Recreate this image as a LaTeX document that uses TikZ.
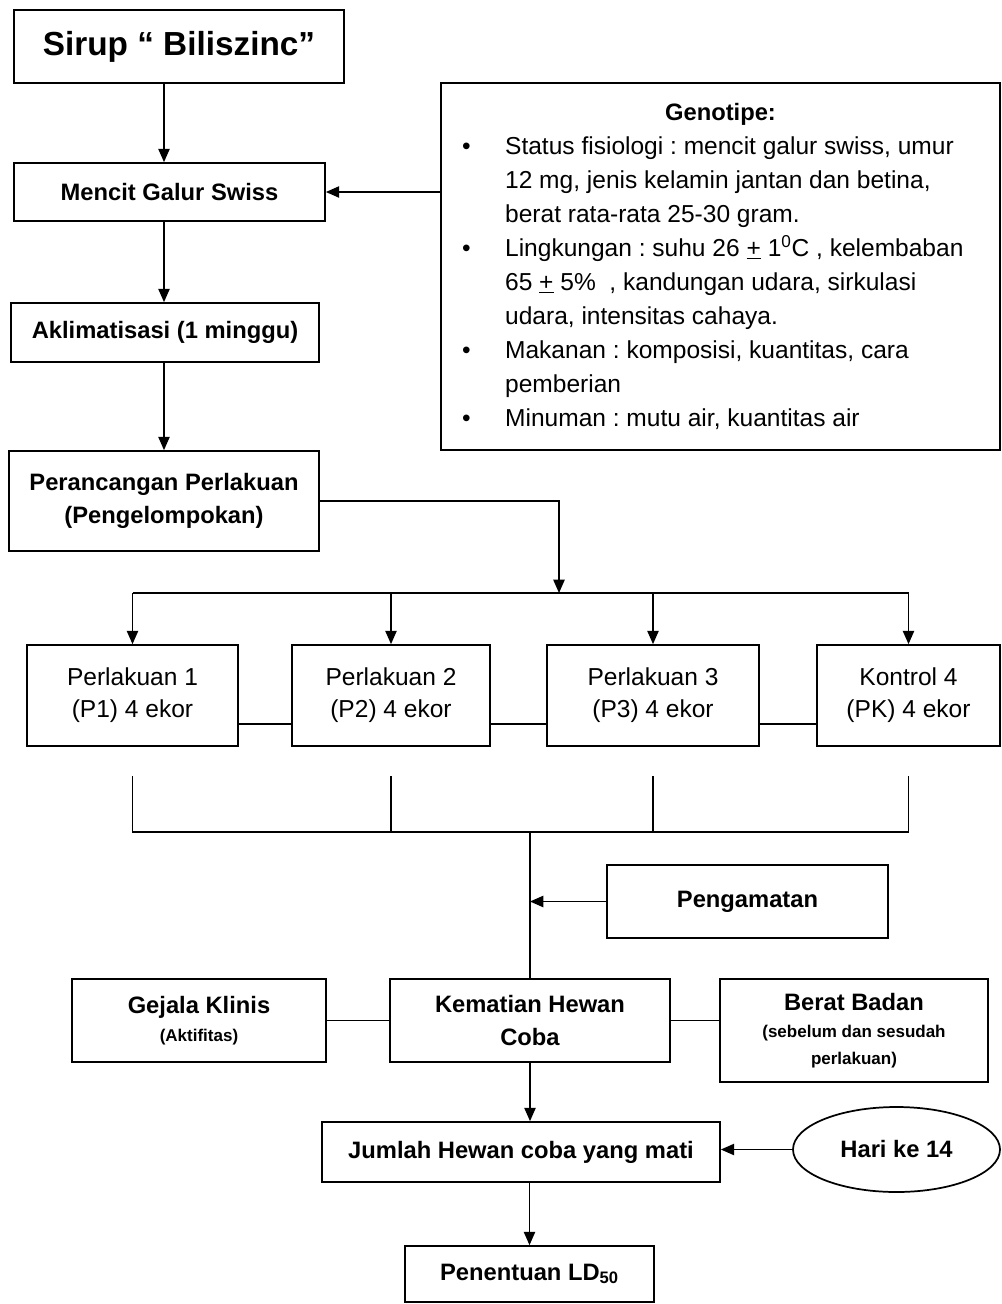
\documentclass[tikz,border=0pt]{standalone}
\usepackage{fontspec}
\usepackage{array}
\setmainfont{Liberation Sans}
\usetikzlibrary{arrows.meta,positioning,shapes.geometric}
\newcommand{\fbig}{\bfseries\fontsize{25}{30}\selectfont}
\newcommand{\fbold}{\bfseries\fontsize{17.8}{24.5}\selectfont}
\newcommand{\fnorm}{\fontsize{18.4}{24}\selectfont}
\newcommand{\fsmall}{\bfseries\fontsize{12.75}{20}\selectfont}
\newcommand{\gbul}{\hspace*{15.75pt}\textbullet}
\frenchspacing

\begin{document}
\begin{tikzpicture}[x=0.75pt, y=-0.75pt,
  >={Triangle[length=10pt, width=8.5pt]},
  bx/.style={draw, line width=1.3pt, inner sep=0pt, align=center, font=\fbold},
  tx/.style={draw, line width=1.3pt, inner sep=0pt, align=center, font=\fnorm},
  every path/.style={line width=1.1pt}]
\useasboundingbox (0,0) rectangle (1001,1304);

% ===== left column =====
\node[bx, font=\fbig, minimum width=247.5pt, minimum height=54.75pt] (sirup) at (179,46.5) {Sirup “ Biliszinc”};
\node[bx, minimum width=233.25pt, minimum height=43.5pt] (mencit) at (169.5,192) {Mencit Galur Swiss};
\node[bx, minimum width=231pt, minimum height=44.25pt] (aklim) at (165,332.5) {Aklimatisasi (1 minggu)};
\node[bx, minimum width=232.5pt, minimum height=75pt] (peran) at (164,501) {Perancangan Perlakuan\\(Pengelompokan)};

% ===== genotipe =====
\node[tx, font=\frenchspacing\fontsize{18.4}{25.5}\selectfont, minimum width=419.25pt, minimum height=275.25pt] (geno) at (720.5,266.5) {%
\begin{tabular}{@{}p{48pt}@{}>{\raggedright\arraybackslash}p{371pt}@{}}
\multicolumn{2}{c}{\fbold Genotipe:}\\
\gbul & Status fisiologi : mencit galur swiss, umur\\
 & 12 mg, jenis kelamin jantan dan betina,\\
 & berat rata-rata 25-30 gram.\\
\gbul & Lingkungan : suhu 26 \underline{+} 1\textsuperscript{0}C , kelembaban\\
 & 65 \underline{+} 5\%~ , kandungan udara, sirkulasi\\
 & udara, intensitas cahaya.\\
\gbul & Makanan : komposisi, kuantitas, cara\\
 & pemberian\\
\gbul & Minuman : mutu air, kuantitas air
\end{tabular}};

% ===== perlakuan row =====
\node[tx, minimum width=158.25pt, minimum height=75.75pt] (p1) at (132.5,695.5) {Perlakuan 1\\(P1) 4 ekor};
\node[tx, minimum width=148.5pt, minimum height=75.75pt] (p2) at (391,695.5) {Perlakuan 2\\(P2) 4 ekor};
\node[tx, minimum width=159pt, minimum height=75.75pt] (p3) at (653,695.5) {Perlakuan 3\\(P3) 4 ekor};
\node[tx, minimum width=137.25pt, minimum height=75.75pt] (pk) at (908.5,695.5) {Kontrol 4\\(PK) 4 ekor};

% ===== pengamatan =====
\node[bx, minimum width=210.75pt, minimum height=54.75pt] (peng) at (747.5,901.5) {Pengamatan};
\node[bx, minimum width=190.5pt, minimum height=62.25pt] (gej) at (199,1020.5) {Gejala Klinis\\[-3pt]{\fsmall (Aktifitas)}};
\node[bx, minimum width=210pt, minimum height=62.25pt] (kem) at (530,1020.5) {Kematian Hewan\\Coba};
\node[bx, minimum width=201pt, minimum height=77.25pt] (berat) at (854,1030.5) {Berat Badan\\[-4pt]{\fsmall (sebelum dan sesudah}\\[-4pt]{\fsmall perlakuan)}};
\node[bx, minimum width=298.5pt, minimum height=45pt] (jum) at (521,1152) {Jumlah Hewan coba yang mati};
\node[bx, ellipse, minimum width=155.25pt, minimum height=63.75pt] (hari) at (896.5,1149.5) {Hari ke 14};
\node[bx, minimum width=186.75pt, minimum height=42pt] (pen) at (529.5,1274) {Penentuan LD\textsubscript{50}};

% ===== edges =====
\coordinate (axis) at (164,0);
\draw[->] (sirup.south -| axis) -- (mencit.north -| axis);
\draw[->] (mencit.south -| axis) -- (aklim.north -| axis);
\draw[->] (aklim.south -| axis) -- (peran.north -| axis);
\draw[->] (geno.west |- mencit.east) -- (mencit.east);

\coordinate (split) at (559,593);
\draw[->] (peran.east) -| (split);
\draw (p1.north |- split) -- (pk.north |- split);
\foreach \n in {p1,p2,p3,pk}
  \draw[->] (\n.north |- split) -- (\n.north);

\draw ([yshift=-21.4pt]p1.east) -- ([yshift=-21.4pt]p2.west);
\draw ([yshift=-21.4pt]p2.east) -- ([yshift=-21.4pt]p3.west);
\draw ([yshift=-21.4pt]p3.east) -- ([yshift=-21.4pt]pk.west);

\coordinate (bus) at (0,776);
\coordinate (join) at (530,832);
\draw (p1 |- bus) -- (p1 |- join) -- (pk |- join) -- (pk |- bus);
\draw (p2 |- bus) -- (p2 |- join);
\draw (p3 |- bus) -- (p3 |- join);
\draw (join) -- (join |- kem.north);
\draw[->] (peng.west) -- (peng.west -| join);

\draw (gej.east) -- (kem.west);
\draw (kem.east) -- (berat.west |- kem.east);
\draw[->] (kem.south) -- (jum.north -| kem.south);
\draw[->] (hari.west) -- (hari.west -| jum.east);
\draw[->] (jum.south -| pen.north) -- (pen.north);

\end{tikzpicture}
\end{document}
